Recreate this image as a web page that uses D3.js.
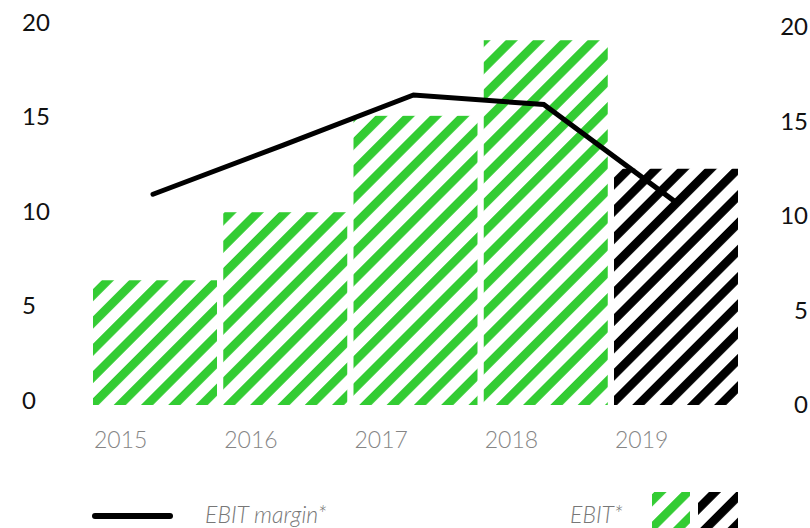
<!DOCTYPE html>
<html>
<head>
<meta charset="utf-8">
<script src="https://cdn.jsdelivr.net/npm/d3@7"></script>
<style>
  html, body { margin: 0; padding: 0; background: #fff; }
  svg { display: block; }
</style>
</head>
<body>
<svg id="chart" width="810" height="528"></svg>
<script>
const years = ["2015", "2016", "2017", "2018", "2019"];
const ebit = [6.6, 10.2, 15.3, 19.3, 12.5];
const ebitMargin = [11.15, 13.75, 16.4, 15.9, 10.8];
const barKind = ["actual", "actual", "actual", "actual", "forecast"];
const yTicks = [0, 5, 10, 15, 20];
const legendLabels = ["EBIT margin*", "EBIT*"];

const svg = d3.select("#chart");
const green = "#33cc33";
const black = "#000000";

const defs = svg.append("defs");
function stripes(id, color) {
  const p = defs.append("pattern")
    .attr("id", id)
    .attr("patternUnits", "userSpaceOnUse")
    .attr("width", 19.3).attr("height", 19.3)
    .attr("patternTransform", "rotate(45)");
  p.append("rect").attr("x", 0).attr("y", 0).attr("width", 8.6).attr("height", 19.3).attr("fill", color);
}
stripes("stripeGreen", green);
stripes("stripeBlack", black);
const fillFor = k => k === "forecast" ? "url(#stripeBlack)" : "url(#stripeGreen)";

const x = d3.scaleBand().domain(years).range([93, 738]).paddingInner(0.048).paddingOuter(0);
const y = d3.scaleLinear().domain([0, 20]).range([405, 27]);

// bars
svg.append("g").selectAll("rect")
  .data(years)
  .join("rect")
  .attr("x", d => x(d))
  .attr("y", (d, i) => y(ebit[i]))
  .attr("width", x.bandwidth())
  .attr("height", (d, i) => y(0) - y(ebit[i]))
  .attr("fill", (d, i) => fillFor(barKind[i]));

// left axis labels
const fontTick = "Lato, 'Open Sans', sans-serif";
const leftAxis = d3.axisLeft(y).tickValues(yTicks).tickSize(0).tickPadding(0).tickFormat(d3.format("d"));
const gl = svg.append("g").attr("transform", "translate(22,0)").call(leftAxis);
gl.select(".domain").remove();
gl.selectAll("text")
  .attr("text-anchor", "start").attr("x", 0).attr("dy", "0.14em")
  .attr("fill", "#111").style("font-family", fontTick).style("font-size", "24px");

// right axis labels
const rightAxis = d3.axisRight(y).tickValues(yTicks).tickSize(0).tickPadding(0).tickFormat(d3.format("d"));
const gr = svg.append("g").attr("transform", "translate(808,0)").call(rightAxis);
gr.select(".domain").remove();
gr.selectAll("text")
  .attr("text-anchor", "end").attr("x", 0).attr("dy", "0.32em")
  .attr("fill", "#111").style("font-family", fontTick).style("font-size", "24px");

// x axis labels
svg.append("g").selectAll("text")
  .data(years)
  .join("text")
  .attr("x", d => x(d) + 1)
  .attr("y", 448)
  .attr("fill", "#858585")
  .style("font-family", fontTick).style("font-weight", 300).style("font-size", "23px")
  .text(d => d);

// line
const line = d3.line()
  .x((d, i) => x(years[i]) + x.bandwidth() / 2 - 2)
  .y(d => y(d));
svg.append("path")
  .datum(ebitMargin)
  .attr("d", line)
  .attr("fill", "none")
  .attr("stroke", black)
  .attr("stroke-width", 5)
  .attr("stroke-linejoin", "miter")
  .attr("stroke-linecap", "round");

// legend
const lg = svg.append("g");
lg.append("line").attr("x1", 95).attr("x2", 170).attr("y1", 516).attr("y2", 516)
  .attr("stroke", black).attr("stroke-width", 6).attr("stroke-linecap", "round");
lg.append("text").attr("x", 205).attr("y", 523).text(legendLabels[0])
  .attr("fill", "#777").style("font-family", fontTick).style("font-style", "italic")
  .style("font-weight", 300).style("font-size", "23px");
lg.append("text").attr("x", 570).attr("y", 523).text(legendLabels[1])
  .attr("fill", "#777").style("font-family", fontTick).style("font-style", "italic")
  .style("font-weight", 300).style("font-size", "23px");
lg.append("rect").attr("x", 652).attr("y", 492).attr("width", 38).attr("height", 40).attr("fill", "url(#stripeGreen)");
lg.append("rect").attr("x", 698).attr("y", 492).attr("width", 40).attr("height", 40).attr("fill", "url(#stripeBlack)");
</script>
</body>
</html>
